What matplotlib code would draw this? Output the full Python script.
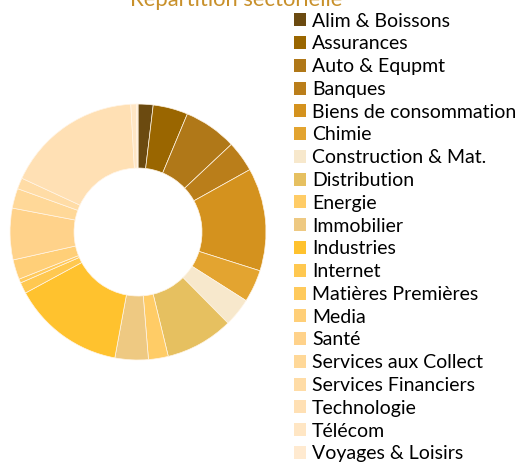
import matplotlib.pyplot as plt
from matplotlib.patches import Patch

plt.rcParams['font.family'] = ['Lato', 'DejaVu Sans']

# Secteurs et poids (%)
secteurs = ['Alim & Boissons', 'Assurances', 'Auto & Equpmt', 'Banques',
            'Biens de consommation', 'Chimie', 'Construction & Mat.',
            'Distribution', 'Energie', 'Immobilier', 'Industries', 'Internet',
            'Matières Premières', 'Media', 'Santé', 'Services aux Collect',
            'Services Financiers', 'Technologie', 'Télécom', 'Voyages & Loisirs']
poids = [1.9, 4.4, 6.7, 3.9, 13.0, 4.1, 3.6, 8.6, 2.5, 4.2,
         14.2, 1.4, 0.5, 2.5, 6.5, 2.5, 1.4, 17.2, 0.7, 0.2]
couleurs = ['#6B4A10', '#9A6600', '#B07818', '#BA7E1A', '#D4921E', '#E3A430',
            '#F7E8CC', '#E6C060', '#FFCC66', '#EEC982', '#FFC22E', '#FFC850',
            '#FFCA5C', '#FFCF78', '#FFD28A', '#FFD898', '#FFDCA6', '#FFE0B4',
            '#FFE6C4', '#FFEAD0']

fig = plt.figure(figsize=(5.21, 4.62), dpi=100)
ax = fig.add_axes([0.0192, 0.2208, 0.4914, 0.554])
ax.pie(poids, colors=couleurs, startangle=90, counterclock=False, radius=1,
       wedgeprops=dict(width=0.5, edgecolor='#FFF5E6', linewidth=0.5))
ax.set_xlim(-1, 1)
ax.set_ylim(-1, 1)
ax.set_aspect('equal')

fig.text(0.453, 1 - 6 / 462, 'Répartition sectorielle', color='#C8902A',
         fontsize=15.8, ha='center', va='baseline')

handles = [Patch(facecolor=c, edgecolor='none') for c in couleurs]
fig.legend(handles, secteurs, loc='upper left', bbox_to_anchor=(0.541, 0.998),
           frameon=False, fontsize=14, handlelength=0.65, handleheight=0.65,
           handletextpad=0.3, labelspacing=0.297, borderaxespad=0.2)

fig.savefig('out.png', dpi=100)
